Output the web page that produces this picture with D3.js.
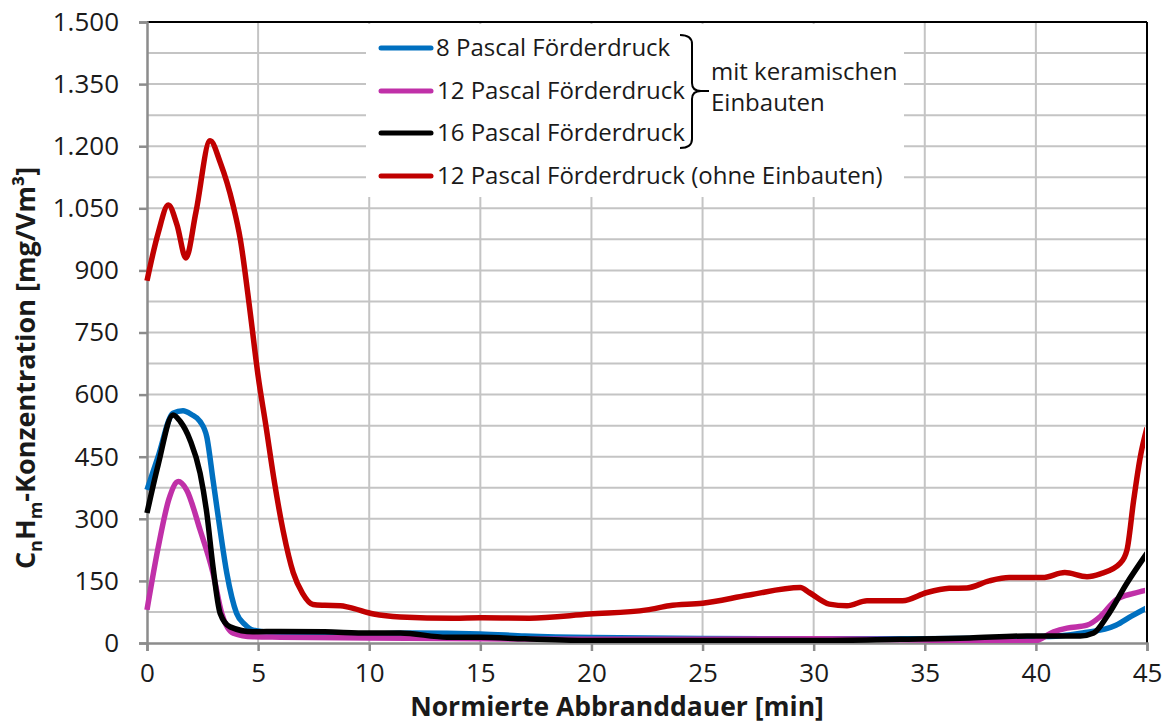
<!DOCTYPE html>
<html>
<head>
<meta charset="utf-8">
<script src="https://cdn.jsdelivr.net/npm/d3@7"></script>
<style>
  html, body { margin: 0; padding: 0; background: #fff; }
  svg { display: block; font-family: "Open Sans", "Noto Sans", sans-serif; }
</style>
</head>
<body>
<svg id="chart" width="1165" height="726"></svg>
<script>
// Hydrocarbon concentration over normalised burn time, four test runs
const seriesNames = [
  "8 Pascal Förderdruck",
  "12 Pascal Förderdruck",
  "16 Pascal Förderdruck",
  "12 Pascal Förderdruck (ohne Einbauten)"
];
const seriesColors = ["#0070c0", "#c030a8", "#000000", "#c00000"];

// [minutes, mg/Vm³]
const pa8 = [[0,370],[0.5,450],[1.17,555],[1.62,561],[2.0,552],[2.39,535],[2.69,498],[2.97,394],[3.29,273],[3.59,169],[4.03,72],[4.4,45],[4.77,31],[5.5,26],[7,25],[10,22],[12,24],[15,22],[17,17],[20,13],[25,11],[30,10],[35,10],[39,12],[40,15],[41,17],[42.1,24],[43.6,43],[44.3,65],[45,85]];
const pa12 = [[0,80],[0.5,230],[1.0,350],[1.41,390],[1.78,370],[2.39,273],[2.97,169],[3.36,72],[3.88,24],[4.77,15],[6,14],[10,12],[15,10],[20,9],[25,9],[30,10],[35,7],[38.4,3],[39.9,4],[40.8,27],[41.4,36],[42.3,43],[42.9,64],[43.6,104],[44.4,120],[45,128]];
const pa16 = [[0,314],[0.5,430],[1.17,551],[1.5,535],[1.94,490],[2.39,410],[2.69,314],[2.97,184],[3.29,72],[3.74,39],[4.77,27],[6,28],[8,27],[10,24],[11.4,24],[13.5,14],[15,14],[17,10],[20,6],[25,6],[30,6],[33.9,9],[37,12],[39.6,17],[42,17],[42.6,24],[43.2,64],[44.1,145],[45,217]];
const pa12Ohne = [[0,875],[0.5,990],[0.96,1058],[1.35,1010],[1.75,930],[2.2,1040],[2.84,1213],[3.3,1160],[3.87,1058],[4.2,975],[4.64,800],[5.0,645],[5.35,525],[5.7,400],[6.13,270],[6.58,170],[7.0,120],[7.47,93],[8.0,91],[8.7,90],[9.1,86],[10.2,70],[11.4,63],[13.8,60],[15.0,61],[17.2,60],[19.9,70],[22.5,80],[23.5,90],[25.0,96],[27.1,116],[29.4,134],[29.8,122],[30.7,94],[31.5,90],[32.4,102],[34.0,102],[35.1,122],[36.1,132],[36.9,133],[37.9,150],[38.8,158],[40.3,158],[41.3,170],[42.3,160],[42.9,167],[43.8,193],[44.1,225],[44.4,345],[44.7,450],[45,520]];

const xTicks = [0, 5, 10, 15, 20, 25, 30, 35, 40, 45];
const yTicks = [0, 150, 300, 450, 600, 750, 900, 1050, 1200, 1350, 1500];
const yGrid = d3.range(0, 1501, 75);

const svg = d3.select("#chart");
const m = { left: 147, right: 1147, top: 22, bottom: 643 };

const x = d3.scaleLinear().domain([0, 45]).range([m.left, m.right]);
const y = d3.scaleLinear().domain([0, 1500]).range([m.bottom, m.top]);

const de = d3.formatLocale({ decimal: ",", thousands: ".", grouping: [3], currency: ["", "€"] });
const fmt = de.format(",d");

// gridlines
const grid = svg.append("g").attr("stroke", "#c4c4c4").attr("stroke-width", 2);
grid.selectAll("line.h").data(yGrid.filter(v => v > 0 && v < 1500)).join("line")
  .attr("x1", m.left).attr("x2", m.right)
  .attr("y1", d => y(d)).attr("y2", d => y(d));
grid.selectAll("line.v").data(xTicks.filter(v => v > 0 && v < 45)).join("line")
  .attr("y1", m.top).attr("y2", m.bottom)
  .attr("x1", d => x(d)).attr("x2", d => x(d));

// frame: top and right in black
svg.append("line").attr("x1", m.left).attr("x2", m.right).attr("y1", m.top).attr("y2", m.top)
  .attr("stroke", "#000").attr("stroke-width", 2);
svg.append("line").attr("x1", m.right).attr("x2", m.right).attr("y1", m.top).attr("y2", m.bottom)
  .attr("stroke", "#000").attr("stroke-width", 2);

// axes
const yAxis = svg.append("g").attr("transform", `translate(${m.left},0)`)
  .call(d3.axisLeft(y).tickValues(yTicks).tickFormat(fmt).tickSize(8).tickPadding(20));
const xAxis = svg.append("g").attr("transform", `translate(0,${m.bottom})`)
  .call(d3.axisBottom(x).tickValues(xTicks).tickSize(8).tickPadding(22));
[yAxis, xAxis].forEach(a => {
  a.select(".domain").attr("stroke", "#8c8c8c").attr("stroke-width", 2.5);
  a.selectAll(".tick line").attr("stroke", "#8c8c8c").attr("stroke-width", 2.5);
  a.selectAll("text").attr("font-size", 26).attr("fill", "#1a1a1a")
    .attr("font-family", "'Open Sans', sans-serif");
});
xAxis.selectAll("text").attr("dy", "0.35em");

// legend panel
const lg = svg.append("g");
lg.append("rect").attr("x", 366).attr("y", 24).attr("width", 538).attr("height", 173).attr("fill", "#fff");
const rowsY = [48, 91, 133, 176];
seriesNames.forEach((name, i) => {
  lg.append("line").attr("x1", 381).attr("x2", 431).attr("y1", rowsY[i]).attr("y2", rowsY[i])
    .attr("stroke", seriesColors[i]).attr("stroke-width", 5).attr("stroke-linecap", "round");
  lg.append("text").attr("x", i === 0 ? 436 : 437).attr("y", rowsY[i]).attr("dy", "0.35em")
    .attr("font-size", 24).attr("fill", "#1a1a1a").text(name);
});
// brace grouping the first three entries
lg.append("path")
  .attr("d", "M680,35 Q692,35 692,44 L692,83 Q692,91 701,91 Q692,91 692,99 L692,139 Q692,148 680,148")
  .attr("fill", "none").attr("stroke", "#000").attr("stroke-width", 2);
lg.append("path").attr("d", "M701,91 L709,91").attr("stroke", "#000").attr("stroke-width", 2);
lg.append("text").attr("x", 711).attr("y", 72).attr("dy", "0.35em").attr("font-size", 24)
  .attr("fill", "#1a1a1a").text("mit keramischen");
lg.append("text").attr("x", 711).attr("y", 103).attr("dy", "0.35em").attr("font-size", 24)
  .attr("fill", "#1a1a1a").text("Einbauten");

// series
const line = d3.line().x(d => x(d[0])).y(d => y(d[1])).curve(d3.curveMonotoneX);
const allSeries = [pa8, pa12, pa16, pa12Ohne];
svg.append("clipPath").attr("id", "plotclip").append("rect")
  .attr("x", m.left - 4).attr("y", m.top).attr("width", m.right - m.left + 2).attr("height", m.bottom - m.top);
svg.append("g").attr("clip-path", "url(#plotclip)")
  .selectAll("path").data(allSeries).join("path")
  .attr("d", line).attr("fill", "none")
  .attr("stroke", (d, i) => seriesColors[i]).attr("stroke-width", 5.5)
  .attr("stroke-linejoin", "round");

// axis titles
svg.append("text").attr("x", 617).attr("y", 716).attr("text-anchor", "middle")
  .attr("font-size", 26.5).attr("font-weight", "bold").attr("fill", "#1a1a1a")
  .text("Normierte Abbranddauer [min]");
const yt = svg.append("text").attr("transform", "translate(35,368) rotate(-90)")
  .attr("text-anchor", "middle").attr("font-size", 27).attr("font-weight", "bold").attr("fill", "#1a1a1a");
yt.append("tspan").text("C");
yt.append("tspan").attr("font-size", 18).attr("dy", 7).text("n");
yt.append("tspan").attr("dy", -7).text("H");
yt.append("tspan").attr("font-size", 18).attr("dy", 7).text("m");
yt.append("tspan").attr("dy", -7).text("-Konzentration [mg/Vm³]");
</script>
</body>
</html>
